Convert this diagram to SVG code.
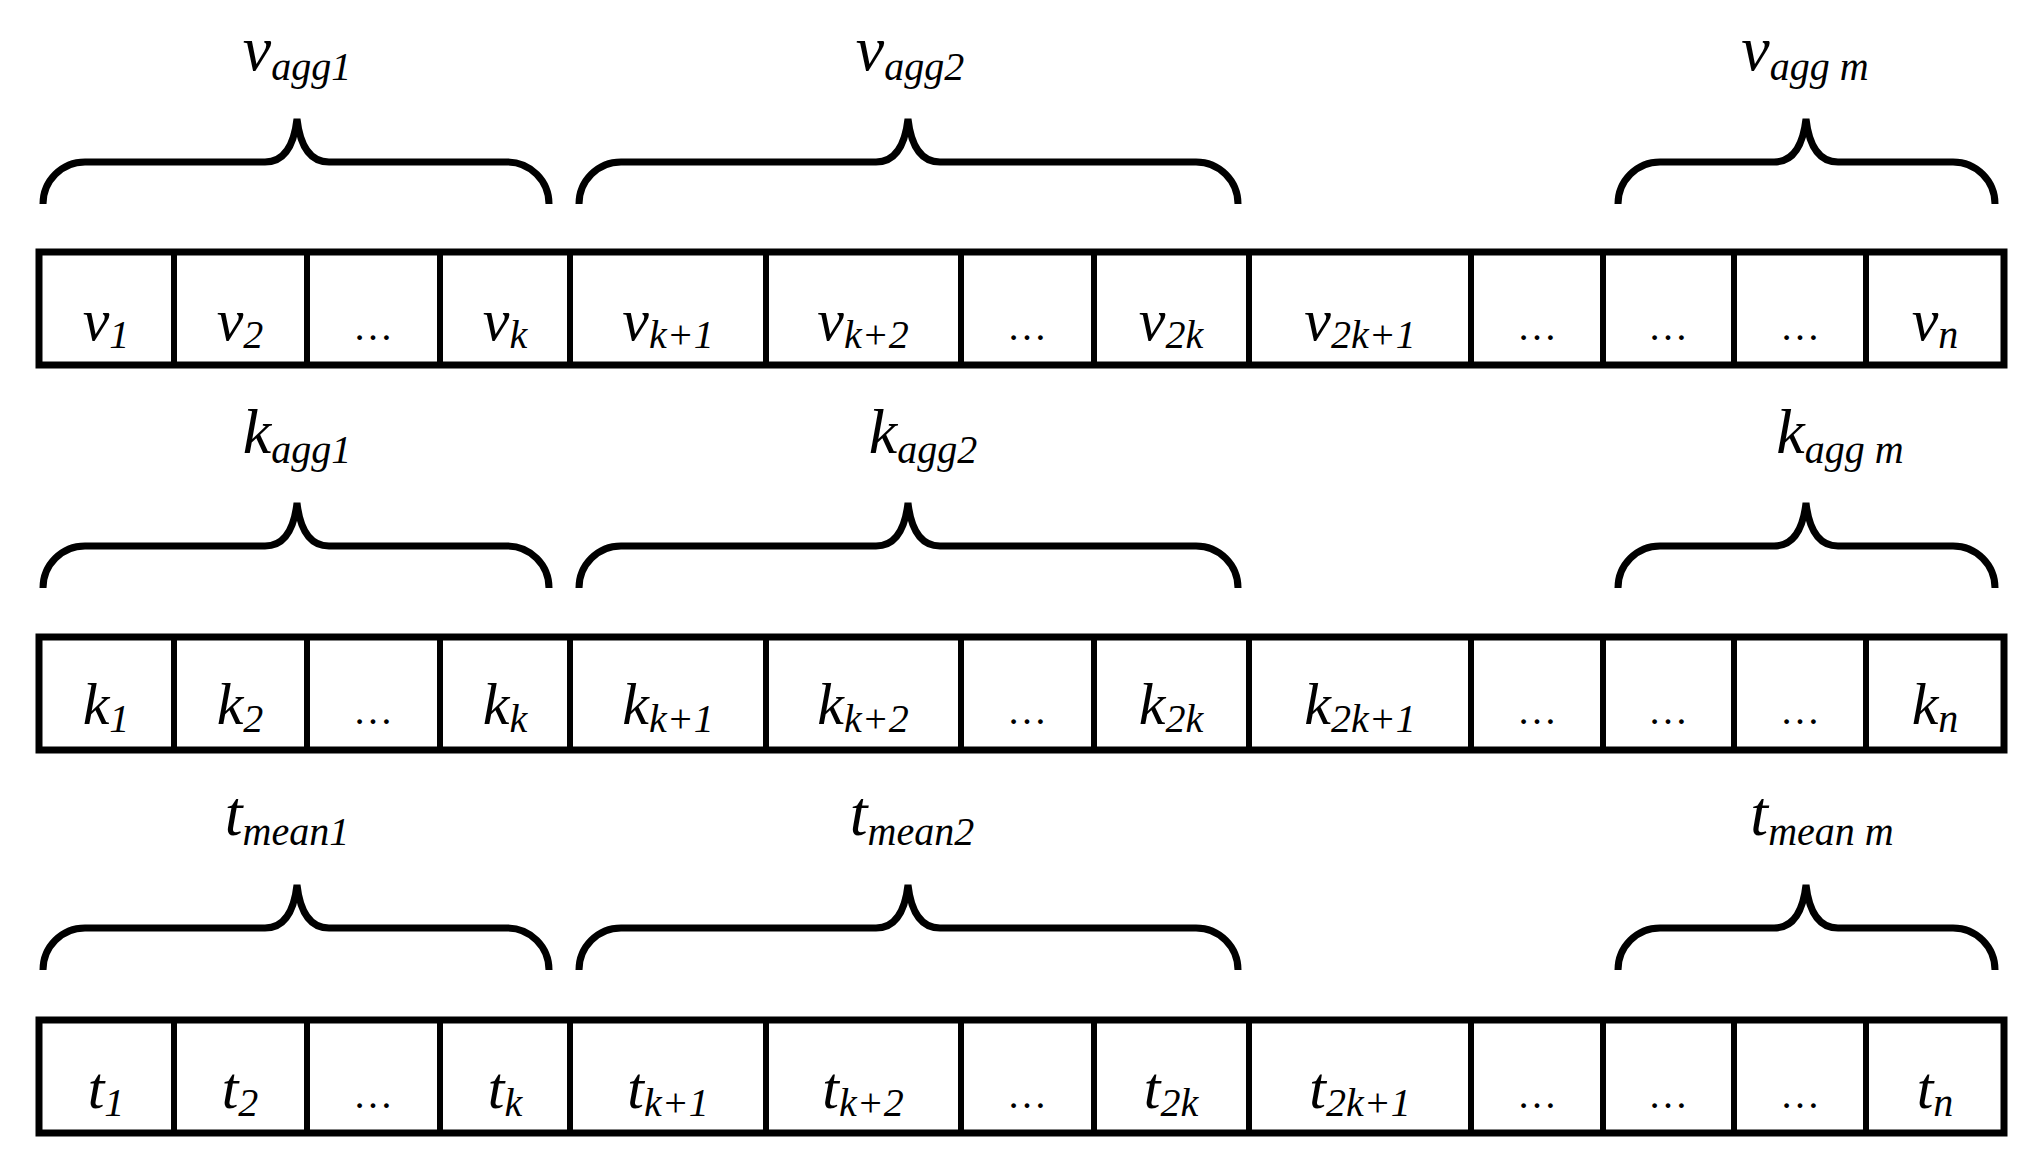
<svg xmlns="http://www.w3.org/2000/svg" width="2025" height="1152" viewBox="0 0 2025 1152">
<style>
.b{fill:none;stroke:#000;stroke-width:7}
.cl{stroke:#000;stroke-width:6}
.br{fill:none;stroke:#000;stroke-width:7;stroke-linecap:butt}
text{font-family:"Liberation Serif","DejaVu Serif",serif;font-style:italic;fill:#000;text-anchor:middle}
.c{font-size:60px}
.l{font-size:64px}
.s{font-size:40px}
.d{font-size:40px;font-style:normal}
</style>
<rect width="2025" height="1152" fill="#fff"/>
<defs>
<g id="cols">
<line class="cl" x1="174" y1="0" x2="174" y2="113"/>
<line class="cl" x1="307" y1="0" x2="307" y2="113"/>
<line class="cl" x1="440" y1="0" x2="440" y2="113"/>
<line class="cl" x1="570" y1="0" x2="570" y2="113"/>
<line class="cl" x1="766" y1="0" x2="766" y2="113"/>
<line class="cl" x1="961" y1="0" x2="961" y2="113"/>
<line class="cl" x1="1094" y1="0" x2="1094" y2="113"/>
<line class="cl" x1="1249" y1="0" x2="1249" y2="113"/>
<line class="cl" x1="1471" y1="0" x2="1471" y2="113"/>
<line class="cl" x1="1603" y1="0" x2="1603" y2="113"/>
<line class="cl" x1="1734" y1="0" x2="1734" y2="113"/>
<line class="cl" x1="1866" y1="0" x2="1866" y2="113"/>
<rect class="b" x="39" y="0" width="1965" height="113"/>
</g>
<g id="braces">
<path class="br" d="M43 85 A42 42 0 0 1 85 43 L265 43 Q292 43 297 0 Q302 43 329 43 L507 43 A42 42 0 0 1 549 85"/>
<path class="br" d="M579 85 A42 42 0 0 1 621 43 L876 43 Q903 43 908 0 Q913 43 940 43 L1196 43 A42 42 0 0 1 1238 85"/>
<path class="br" d="M1618 85 A42 42 0 0 1 1660 43 L1774 43 Q1801 43 1806 0 Q1811 43 1838 43 L1953 43 A42 42 0 0 1 1995 85"/>
</g>
</defs>
<g id="connectors">
<use href="#braces" x="0" y="119"/>
<use href="#braces" x="0" y="503"/>
<use href="#braces" x="0" y="885"/>
</g>
<g id="row-v">
<use href="#cols" x="0" y="252"/>
<text class="c" x="106" y="340">v<tspan class="s" dy="8">1</tspan></text>
<text class="c" x="240" y="340">v<tspan class="s" dy="8">2</tspan></text>
<text class="d" x="373" y="340">…</text>
<text class="c" x="505" y="340">v<tspan class="s" dy="8">k</tspan></text>
<text class="c" x="668" y="340">v<tspan class="s" dy="8">k+1</tspan></text>
<text class="c" x="863" y="340">v<tspan class="s" dy="8">k+2</tspan></text>
<text class="d" x="1027" y="340">…</text>
<text class="c" x="1171" y="340">v<tspan class="s" dy="8">2k</tspan></text>
<text class="c" x="1360" y="340">v<tspan class="s" dy="8">2k+1</tspan></text>
<text class="d" x="1537" y="340">…</text>
<text class="d" x="1668" y="340">…</text>
<text class="d" x="1800" y="340">…</text>
<text class="c" x="1935" y="340">v<tspan class="s" dy="8">n</tspan></text>
</g>
<g id="row-k">
<use href="#cols" x="0" y="637"/>
<text class="c" x="106" y="724">k<tspan class="s" dy="8">1</tspan></text>
<text class="c" x="240" y="724">k<tspan class="s" dy="8">2</tspan></text>
<text class="d" x="373" y="724">…</text>
<text class="c" x="505" y="724">k<tspan class="s" dy="8">k</tspan></text>
<text class="c" x="668" y="724">k<tspan class="s" dy="8">k+1</tspan></text>
<text class="c" x="863" y="724">k<tspan class="s" dy="8">k+2</tspan></text>
<text class="d" x="1027" y="724">…</text>
<text class="c" x="1171" y="724">k<tspan class="s" dy="8">2k</tspan></text>
<text class="c" x="1360" y="724">k<tspan class="s" dy="8">2k+1</tspan></text>
<text class="d" x="1537" y="724">…</text>
<text class="d" x="1668" y="724">…</text>
<text class="d" x="1800" y="724">…</text>
<text class="c" x="1935" y="724">k<tspan class="s" dy="8">n</tspan></text>
</g>
<g id="row-t">
<use href="#cols" x="0" y="1020"/>
<text class="c" x="106" y="1108">t<tspan class="s" dy="8">1</tspan></text>
<text class="c" x="240" y="1108">t<tspan class="s" dy="8">2</tspan></text>
<text class="d" x="373" y="1108">…</text>
<text class="c" x="505" y="1108">t<tspan class="s" dy="8">k</tspan></text>
<text class="c" x="668" y="1108">t<tspan class="s" dy="8">k+1</tspan></text>
<text class="c" x="863" y="1108">t<tspan class="s" dy="8">k+2</tspan></text>
<text class="d" x="1027" y="1108">…</text>
<text class="c" x="1171" y="1108">t<tspan class="s" dy="8">2k</tspan></text>
<text class="c" x="1360" y="1108">t<tspan class="s" dy="8">2k+1</tspan></text>
<text class="d" x="1537" y="1108">…</text>
<text class="d" x="1668" y="1108">…</text>
<text class="d" x="1800" y="1108">…</text>
<text class="c" x="1935" y="1108">t<tspan class="s" dy="8">n</tspan></text>
</g>
<g id="labels">
<text class="l" x="297" y="70">v<tspan class="s" dy="10">agg1</tspan></text>
<text class="l" x="910" y="70">v<tspan class="s" dy="10">agg2</tspan></text>
<text class="l" x="1805" y="70">v<tspan class="s" dy="10">agg m</tspan></text>
<text class="l" x="297" y="453">k<tspan class="s" dy="10">agg1</tspan></text>
<text class="l" x="923" y="453">k<tspan class="s" dy="10">agg2</tspan></text>
<text class="l" x="1840" y="453">k<tspan class="s" dy="10">agg m</tspan></text>
<text class="l" x="287" y="835">t<tspan class="s" dy="10">mean1</tspan></text>
<text class="l" x="912" y="835">t<tspan class="s" dy="10">mean2</tspan></text>
<text class="l" x="1822" y="835">t<tspan class="s" dy="10">mean m</tspan></text>
</g>
</svg>
